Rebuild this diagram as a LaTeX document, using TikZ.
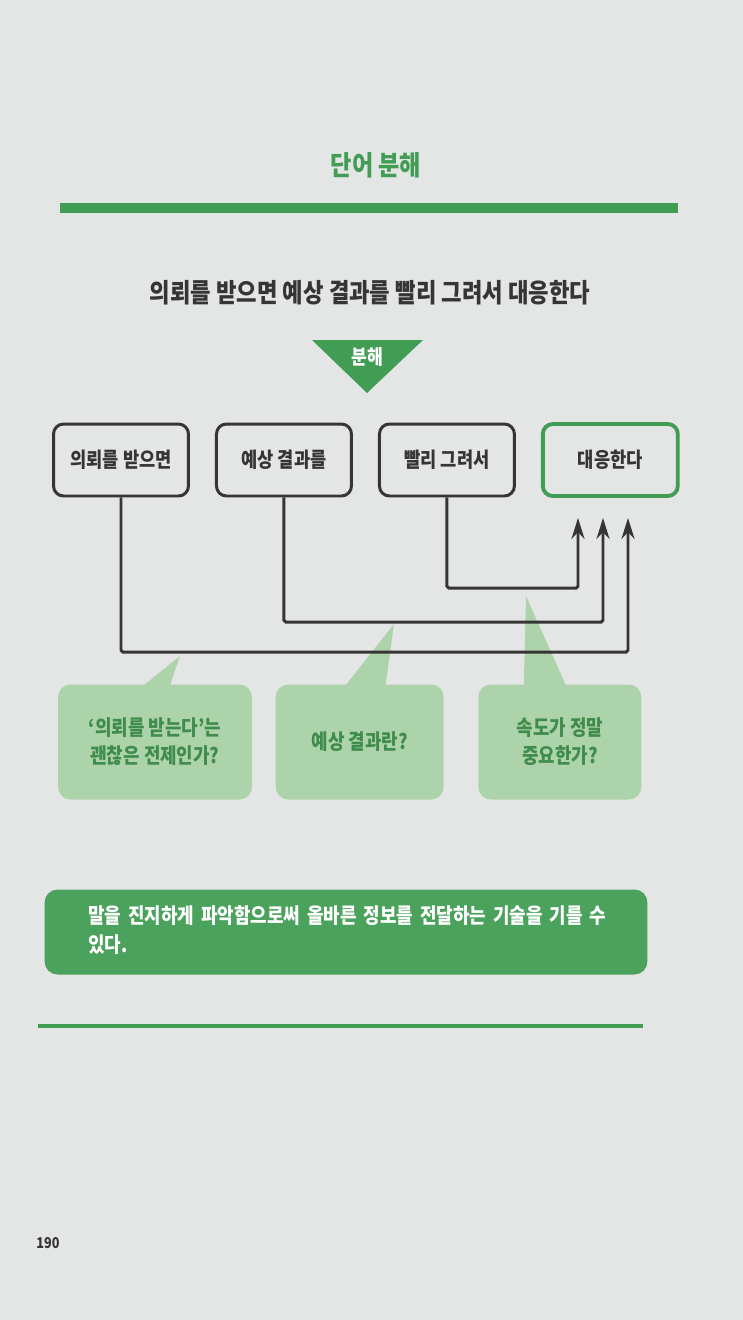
\documentclass[tikz,border=0pt]{standalone}
\usepackage{fontspec}
\setmainfont[FakeStretch=0.85]{Noto Sans CJK KR}
\usepackage{xcolor}
\usetikzlibrary{positioning,arrows.meta}

\definecolor{page}{HTML}{E4E6E5}
\definecolor{leaf}{HTML}{419D53}
\definecolor{pale}{HTML}{ADD3AB}
\definecolor{moss}{HTML}{3F8C4C}
\definecolor{ink}{HTML}{353535}

\tikzset{
  word/.style={draw=ink, line width=1.7pt, rounded corners=0.2cm,
    minimum width=2.7cm, minimum height=1.44cm, font=\fontsize{11.8}{13}\selectfont\bfseries, text=ink},
  goal/.style={word, draw=leaf, line width=2.2pt},
  bubble/.style={fill=pale, rounded corners=0.25cm, minimum height=2.3cm,
    align=center, font=\fontsize{12}{16}\selectfont\bfseries, text=moss},
  link/.style={draw=ink, line width=1.7pt, rounded corners=1pt},
  arrow/.style={link, -{Stealth[length=0.42cm,width=0.26cm]}, shorten >=0.4cm}
}

\begin{document}
\begin{tikzpicture}[x=0.02cm, y=-0.02cm, node distance=0.5cm]
  \fill[page] (0,0) rectangle (743,1320);
  \useasboundingbox (0,0) rectangle (743,1320);

  \node (title) at (376,165) [text=leaf, font=\fontsize{15.5}{18}\selectfont\bfseries] {단어 분해};
  \draw[leaf, line width=5.6pt] (60,208) -- (678,208);

  \node (sub) at (370,293) [text=ink, font=\fontsize{14.9}{17}\selectfont\bfseries]
    {의뢰를 받으면 예상 결과를 빨리 그려서 대응한다};

  \fill[leaf] (312,340) -- (423,340) -- (367,393) -- cycle;
  \node (split) at (367,357) [text=white, font=\fontsize{11.5}{13}\selectfont\bfseries] {분해};

  \node (bx1) at (121,460) [word] {의뢰를 받으면};
  \node (bx2) [word, right=of bx1] {예상 결과를};
  \node (bx3) [word, right=of bx2] {빨리 그려서};
  \node (bx4) [goal, right=of bx3] {대응한다};

  \node (cl1) at (155,742) [bubble, minimum width=3.88cm] {‘의뢰를 받는다’는\\괜찮은 전제인가?};
  \node (cl2) [bubble, minimum width=3.36cm, right=0.46cm of cl1] {예상 결과란?};
  \node (cl3) [bubble, minimum width=3.26cm, right=0.68cm of cl2] {속도가 정말\\중요한가?};

  \coordinate (k1) at (628,652);
  \coordinate (k2) at (603,622);
  \coordinate (k3) at (578,588);

  \fill[pale] ([shift={(-11,1)}]cl1.north) -- ([shift={(15,1)}]cl1.north) -- (180,656) -- cycle;
  \fill[pale] ([shift={(-14,1)}]cl2.north) -- ([shift={(26,1)}]cl2.north) -- (394,624) -- cycle;
  \fill[pale] ([shift={(-36,1)}]cl3.north) -- ([shift={(6,1)}]cl3.north) -- (526,596) -- cycle;

  \draw[arrow] (bx1.south) |- (k1) -- (k1 |- bx4.south);
  \draw[arrow] (bx2.south) |- (k2) -- (k2 |- bx4.south);
  \draw[arrow] (bx3.south) |- (k3) -- (k3 |- bx4.south);

  \node (note) at (346,932) [fill=leaf!95!white, rounded corners=0.26cm,
    minimum width=12.06cm, minimum height=1.7cm] {};
  \node (msg) at (82,930) [anchor=west, text=white, align=left, text width=11.4cm,
    font=\fontsize{12}{16.4}\selectfont\bfseries]
    {말을 진지하게 파악함으로써 올바른 정보를 전달하는 기술을 기를 수\\있다.};

  \draw[leaf, line width=2.8pt] (38,1026) -- (643,1026);

  \node (folio) at (48,1243) [text=ink, font=\fontsize{8.5}{10}\selectfont\bfseries] {190};
\end{tikzpicture}
\end{document}
